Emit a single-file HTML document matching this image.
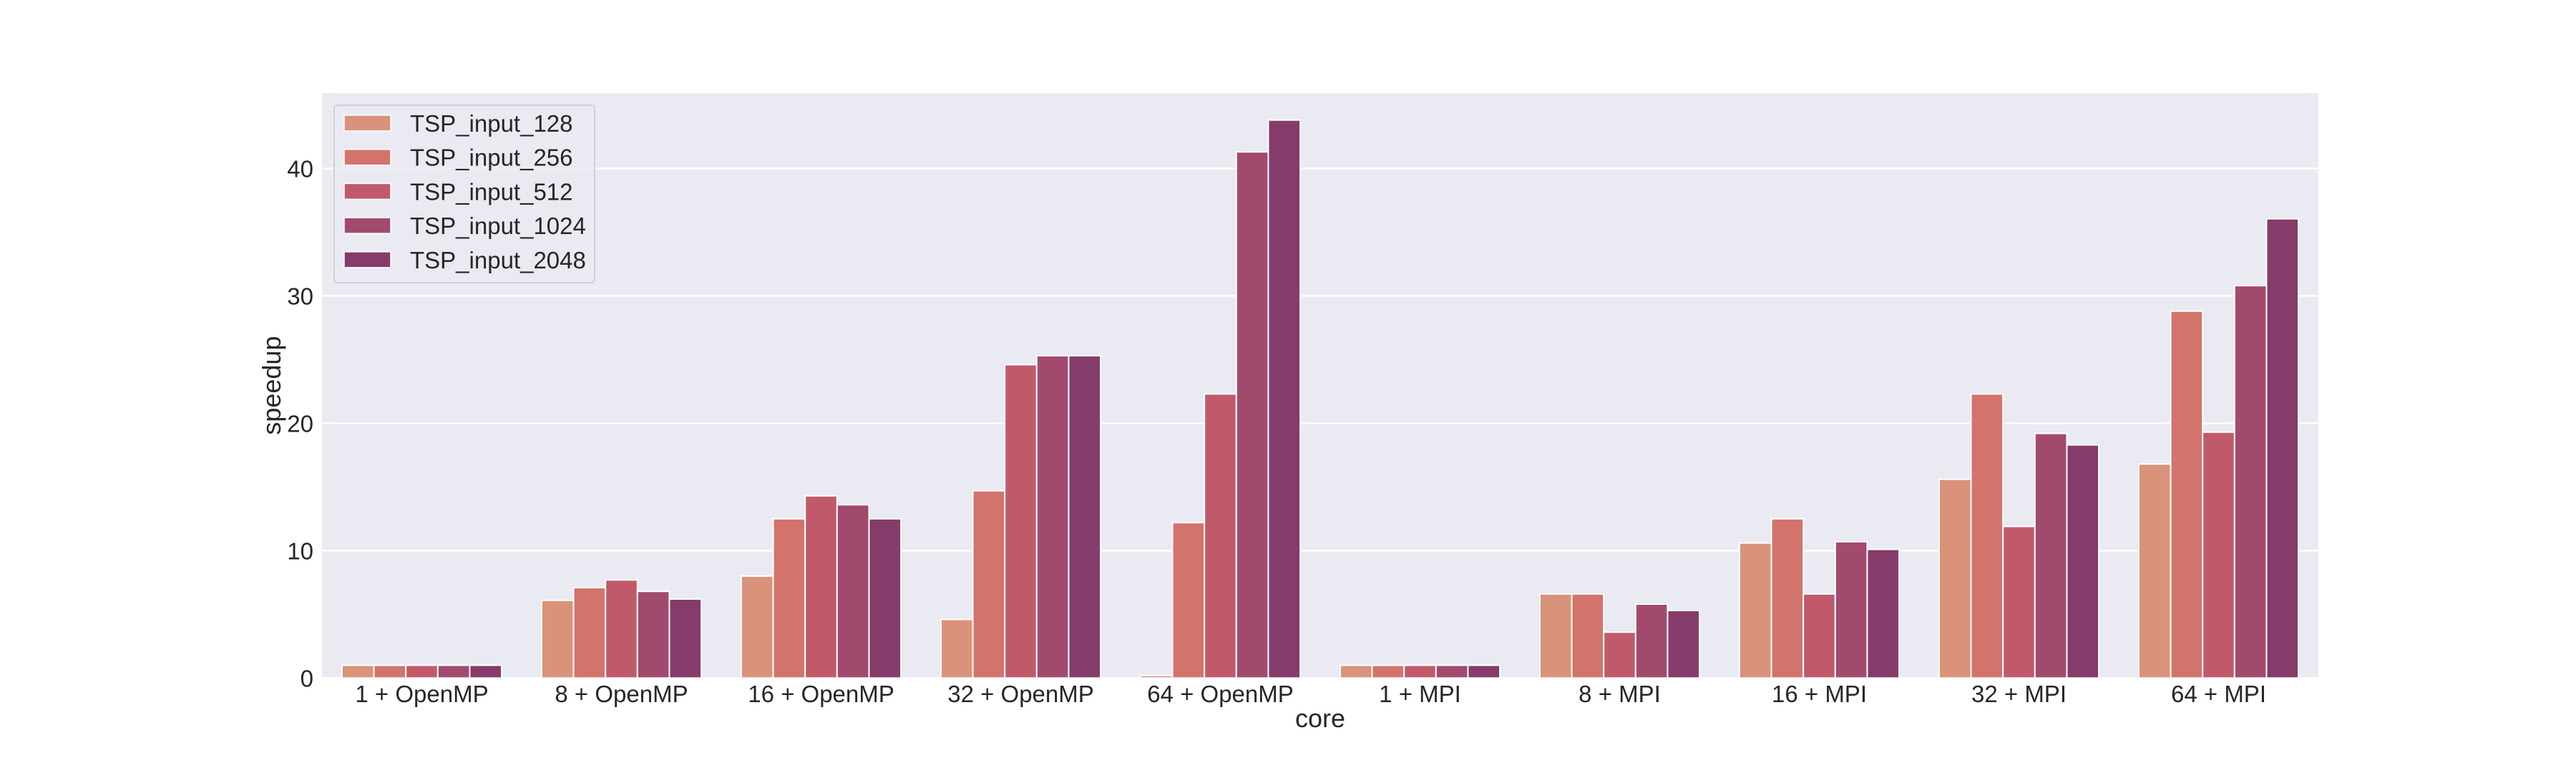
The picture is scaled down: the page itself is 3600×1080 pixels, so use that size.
<!DOCTYPE html>
<html><head><meta charset="utf-8"><style>
html,body{margin:0;padding:0;background:#fff;}
svg{display:block;font-family:"Liberation Sans",Arial,sans-serif;}
</style></head><body>
<svg id="chart" width="3600" height="1080" viewBox="0 0 3600 1080">
<rect x="450" y="130" width="2790" height="817.3" fill="#eaeaf2"/>
<g id="grid"></g><g id="bars"></g><g id="ticks"></g>
<text x="1845" y="1016" font-size="36" fill="#262626" text-anchor="middle">core</text>
<text transform="translate(392,538.6) rotate(-90)" font-size="36" fill="#262626" text-anchor="middle">speedup</text>
<g id="legend"></g>
</svg>
<script>
const categories=["1 + OpenMP","8 + OpenMP","16 + OpenMP","32 + OpenMP","64 + OpenMP","1 + MPI","8 + MPI","16 + MPI","32 + MPI","64 + MPI"];
const seriesNames=["TSP_input_128","TSP_input_256","TSP_input_512","TSP_input_1024","TSP_input_2048"];
const s128=[1,6.1,8.0,4.6,0.2,1,6.6,10.6,15.6,16.8];
const s256=[1,7.1,12.5,14.7,12.2,1,6.6,12.5,22.3,28.8];
const s512=[1,7.7,14.3,24.6,22.3,1,3.6,6.6,11.9,19.3];
const s1024=[1,6.8,13.6,25.3,41.3,1,5.8,10.7,19.2,30.8];
const s2048=[1,6.2,12.5,25.3,43.8,1,5.3,10.1,18.3,36.05];
const yTicks=[0,10,20,30,40];
const colors=["#d9937a","#d3746c","#c05a6b","#a24a6e","#853c6a"];
const NS="http://www.w3.org/2000/svg";
const L=450,R=3240,T=130,B=947.3,YMAX=45.92;
const y=v=>B-(v/YMAX)*(B-T);
const bw=(R-L)/categories.length;
const x=i=>L+bw*(i+0.5);
function mk(tag,attrs,parent){const e=document.createElementNS(NS,tag);for(const k in attrs)e.setAttribute(k,attrs[k]);parent.appendChild(e);return e;}
const grid=document.getElementById('grid'),bars=document.getElementById('bars'),ticks=document.getElementById('ticks'),legend=document.getElementById('legend');
yTicks.forEach(t=>{
 const l=mk('line',{x1:L,x2:R,y1:y(t),y2:y(t),stroke:'#fff','stroke-width':2.5},grid);
 
 
 const tx=mk('text',{x:438,y:y(t)+12,'font-size':33,fill:'#262626','text-anchor':'end'},ticks);
 tx.textContent=t;
 
 
});
const series=[s128,s256,s512,s1024,s2048];
const w=bw*0.8/series.length;
series.forEach((s,j)=>{
 s.forEach((v,i)=>{
  const bx=x(i)-bw*0.4+j*w;
  const r=mk('rect',{x:bx,y:y(v),width:w,height:B-y(v),fill:colors[j],stroke:'#fff','stroke-width':2},bars);
  
  
 });
});
categories.forEach((c,i)=>{
 const tx=mk('text',{x:x(i),y:981,'font-size':33,fill:'#262626','text-anchor':'middle'},ticks);
 tx.textContent=c;
 
 
});
const lb=mk('rect',{x:467,y:147,width:364,height:248,rx:5,fill:'#eaeaf2','fill-opacity':0.8,stroke:'#d0d0d6','stroke-width':2},legend);


seriesNames.forEach((n,j)=>{
 const cy=172+j*47.7;
 const p=mk('rect',{x:481,y:cy-11,width:65,height:22,fill:colors[j],stroke:'#fff','stroke-width':1.5},legend);
 
 
 const t=mk('text',{x:573,y:cy+12,'font-size':33,fill:'#262626'},legend);
 t.textContent=n;
 
 
});
</script>
</body></html>
